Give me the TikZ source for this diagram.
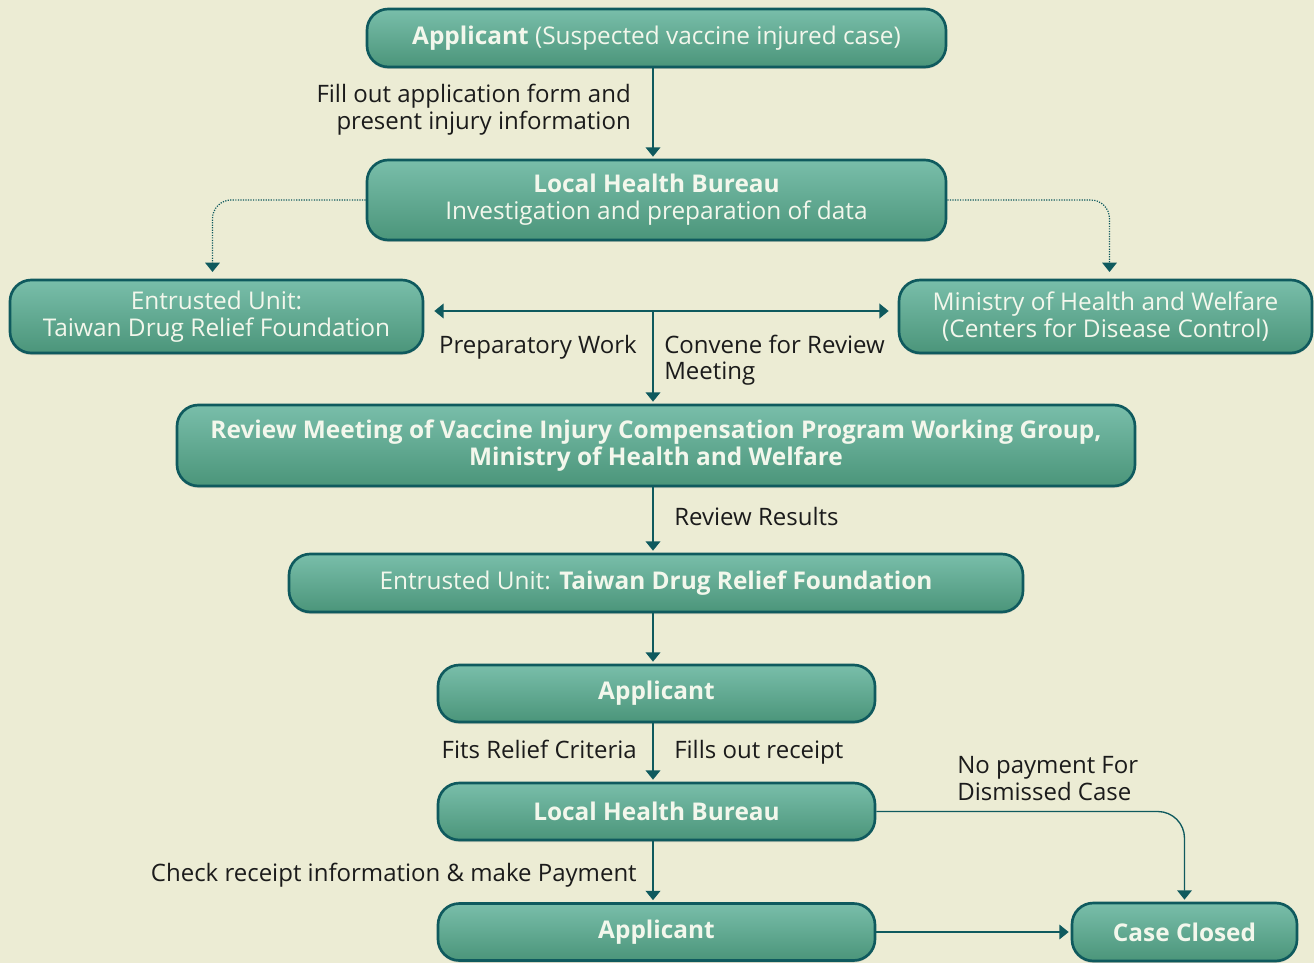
\documentclass[tikz,border=0pt]{standalone}
\usepackage{fontspec}
\setmainfont{Open Sans}
\usetikzlibrary{arrows.meta,calc,shadows}
\definecolor{bg}{HTML}{ECECD4}
\definecolor{edge}{HTML}{0F5A5E}
\definecolor{topc}{HTML}{79BEAA}
\definecolor{botc}{HTML}{4B957A}
\definecolor{boxtext}{HTML}{F3F7EC}
\definecolor{labtext}{HTML}{1B1B1B}
\tikzset{
 box/.style={draw=edge, line width=2pt, rounded corners=16pt, top color=topc, bottom color=botc,
   text=boxtext, align=center, inner sep=0pt, font=\fontsize{18.3}{20.25}\selectfont,
   drop shadow={opacity=0.3, shadow xshift=0pt, shadow yshift=-1.5pt}},
 conn/.style={draw=edge, line width=1.3pt, -{Triangle[width=11pt,length=7pt]}, shorten >=1.5pt},
 thinconn/.style={draw=edge, line width=1pt, -{Triangle[width=11pt,length=7pt]}, shorten >=1.5pt},
 dotconn/.style={draw=edge, line width=0.9pt, densely dotted, rounded corners=14pt},
 lab/.style={text=labtext, inner sep=0pt, font=\fontsize{18}{20}\selectfont},
}
\begin{document}
\begin{tikzpicture}[x=0.75pt,y=-0.75pt]
\fill[bg] (0,0) rectangle (1314,963);
\useasboundingbox (0,0) rectangle (1314,963);

% boxes
\node[box, minimum width=434.25pt, minimum height=43.5pt] (a1) at (656.5,38)
  {\textbf{Applicant} (Suspected vaccine injured case)};
\node[box, minimum width=434.25pt, minimum height=60pt] (l1) at (656.5,200)
  {\textbf{Local Health Bureau}\\Investigation and preparation of data};
\node[box, minimum width=309.75pt, minimum height=54.75pt] (eu) at (216.5,316.5)
  {Entrusted Unit:\\Taiwan Drug Relief Foundation};
\node[box, minimum width=309.75pt, minimum height=54.75pt] (mo) at (1105.5,316.5)
  {Ministry of Health and Welfare\\(Centers for Disease Control)};
\node[box, minimum width=718.5pt, minimum height=60.75pt] (rm) at (656,445.5)
  {\textbf{Review Meeting of Vaccine Injury Compensation Program Working Group,}\\\textbf{Ministry of Health and Welfare}};
\node[box, minimum width=550.5pt, minimum height=43.5pt] (e2) at (656,583)
  {Entrusted Unit: \textbf{Taiwan Drug Relief Foundation}};
\node[box, minimum width=327.75pt, minimum height=42.75pt] (a2) at (656.5,693.5)
  {\textbf{Applicant}};
\node[box, minimum width=327.75pt, minimum height=42.75pt] (l2) at (656.5,811.5)
  {\textbf{Local Health Bureau}};
\node[box, minimum width=327.75pt, minimum height=42.75pt] (a3) at (656.5,932)
  {\textbf{Applicant}};
\node[box, minimum width=168.75pt, minimum height=43.5pt] (cc) at (1184.5,932)
  {\textbf{Case Closed}};

% connectors
\coordinate (j) at (653,311);
\draw[conn] (a1.south -| j) -- (l1.north -| j);
\draw[dotconn, -{Triangle[width=11pt,length=7pt]}, shorten >=5pt] (l1.west) -| ($(eu.north)+(-4,0)$);
\draw[dotconn, -{Triangle[width=11pt,length=7pt]}, shorten >=5pt] (l1.east) -| ($(mo.north)+(4,0)$);
\draw[draw=edge, line width=1.5pt, {Triangle[width=11pt,length=7pt]}-{Triangle[width=11pt,length=7pt]}]
  ($(eu.east)+(10,-5.5)$) -- ($(mo.west)+(-9,-5.5)$);
\draw[conn] (j) -- (j |- rm.north);
\draw[conn] (rm.south -| j) -- (e2.north -| j);
\draw[conn] (e2.south -| j) -- (a2.north -| j);
\draw[conn] (a2.south -| j) -- (l2.north -| j);
\draw[conn] (l2.south -| j) -- (a3.north -| j);
\draw[thinconn, rounded corners=20pt] (l2.east) -| (cc.north);
\draw[thinconn] (a3.east) -- (cc.west);

% labels
\node[lab, anchor=base east] (t1) at (631,103) {Fill out application form and};
\node[lab, anchor=base east] (t2) at (631,130) {present injury information};
\node[lab, anchor=base east] (t3) at (637,353) {Preparatory Work};
\node[lab, anchor=base west] (t4) at (664,353) {Convene for Review};
\node[lab, anchor=base west] (t5) at (664,379) {Meeting};
\node[lab, anchor=base west] (t6) at (674,525) {Review Results};
\node[lab, anchor=base east] (t7) at (637,758) {Fits Relief Criteria};
\node[lab, anchor=base west] (t8) at (674,758) {Fills out receipt};
\node[lab, anchor=base west] (t9) at (957,773) {No payment For};
\node[lab, anchor=base west] (t10) at (957,800) {Dismissed Case};
\node[lab, anchor=base east] (t11) at (637,881) {Check receipt information \& make Payment};
\end{tikzpicture}
\end{document}
